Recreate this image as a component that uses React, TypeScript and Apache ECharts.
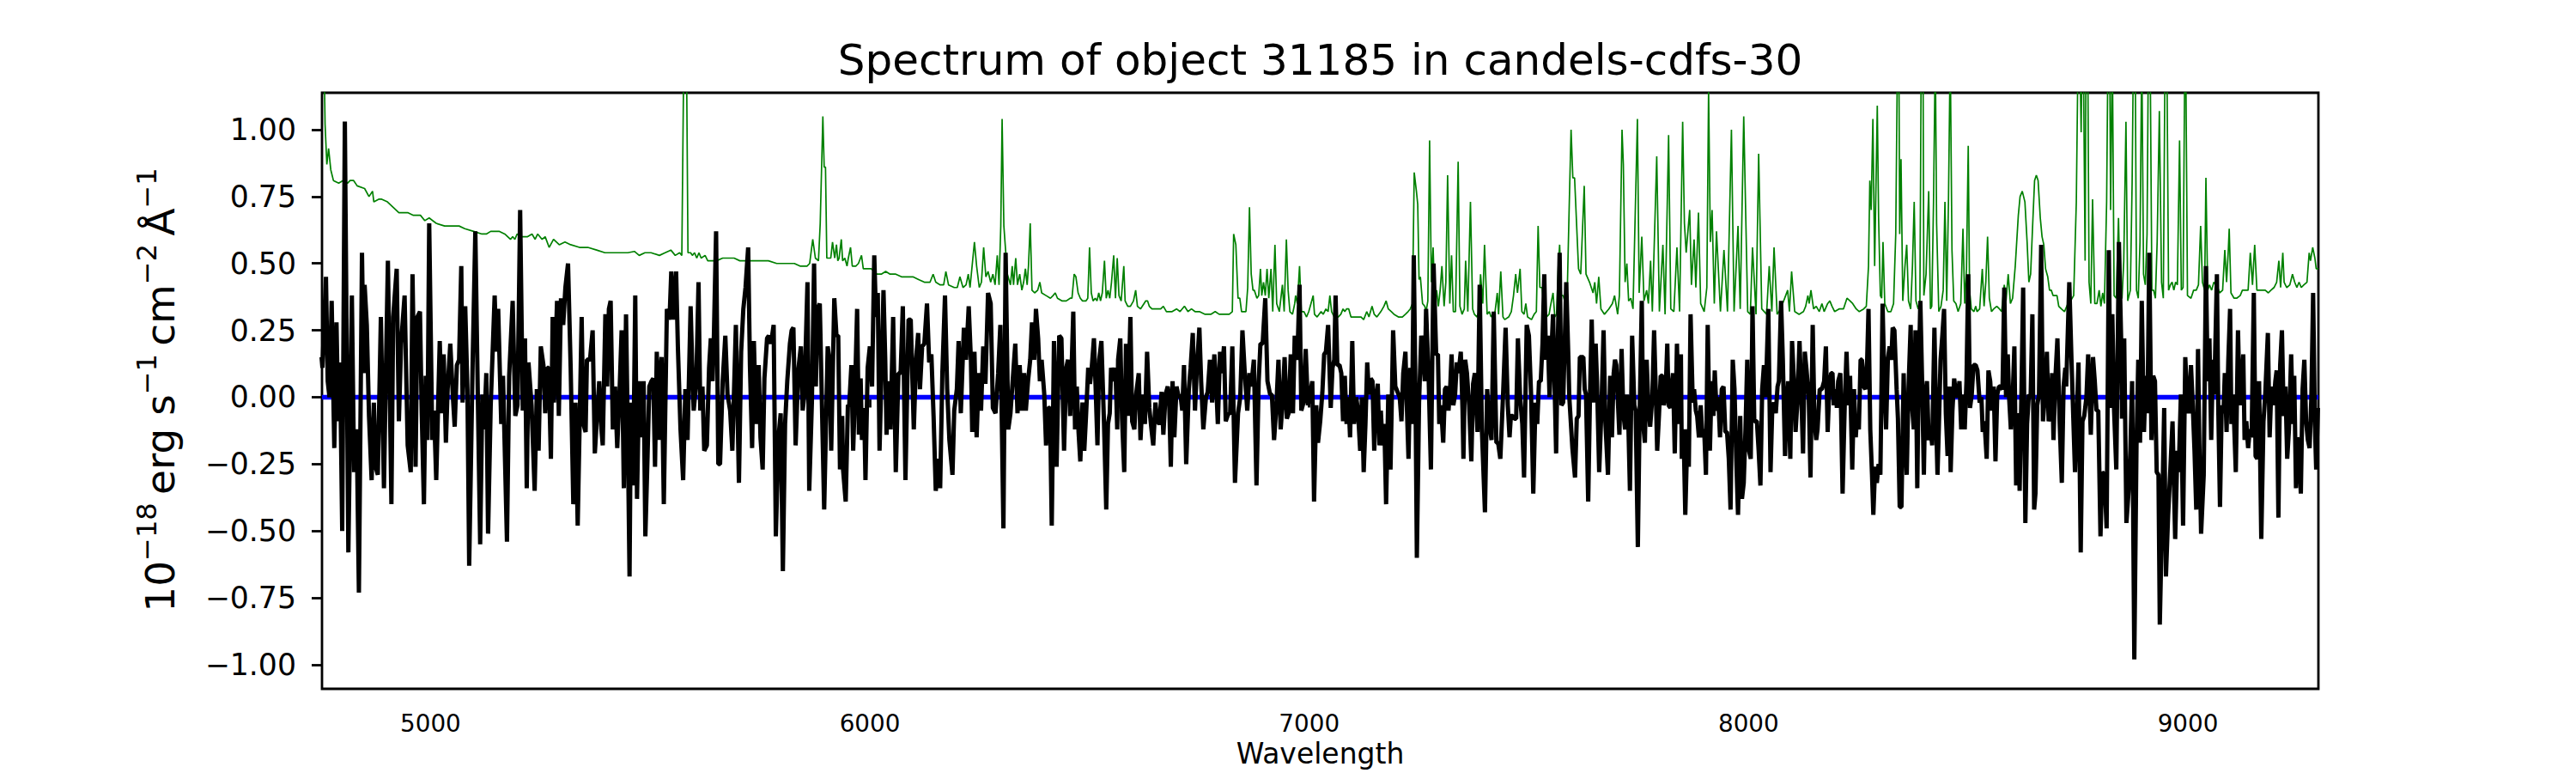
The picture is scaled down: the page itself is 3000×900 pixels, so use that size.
import React, { useEffect, useRef } from "react";
import * as echarts from "echarts";

const TITLE = "Spectrum of object 31185 in candels-cdfs-30";
const X_NAME = "Wavelength";
const X_MIN = 4753;
const X_MAX = 9297;
const Y_MIN = -1.09;
const Y_MAX = 1.138;
const xTicks = [5000, 6000, 7000, 8000, 9000];
const yTicks = [-1, -0.75, -0.5, -0.25, 0, 0.25, 0.5, 0.75, 1];

// black: observed flux [wavelength, flux]
const black4750 = [[4752,0.15],[4754,0.11],[4762,0.45],[4766,0.06],[4770,0.00],[4775,0.36],[4781,-0.19],[4786,0.28],[4790,-0.09],[4794,0.13],[4799,-0.50],[4805,1.03],[4813,-0.58],[4821,0.38],[4826,-0.28],[4832,-0.12],[4837,-0.73],[4844,0.54],[4848,0.09],[4850,0.42],[4855,0.27],[4860,-0.07],[4866,-0.31],[4871,-0.02],[4875,-0.26],[4880,-0.29],[4887,0.30],[4894,-0.34],[4898,0.06],[4903,0.51],[4911,-0.40],[4915,0.30],[4923,0.48],[4928,-0.09],[4933,0.20],[4941,0.38],[4948,-0.18],[4955,-0.28],[4959,0.46],[4966,-0.26],[4970,0.30],[4976,0.32],[4980,-0.06],[4985,-0.40],[4989,0.08],[4993,-0.16],[4997,0.65],[5004,-0.16],[5008,-0.05],[5013,-0.31],[5021,0.21],[5026,-0.06],[5030,0.16],[5035,-0.17],[5039,0.03],[5045,0.20],[5051,0.00],[5055,-0.11],[5060,0.12],[5065,0.14],[5070,0.49],[5073,-0.02],[5079,0.34],[5084,0.03],[5088,-0.63],[5096,0.14],[5102,0.62],[5108,-0.03],[5113,-0.55],[5118,0.01],[5122,-0.12],[5127,0.09],[5131,-0.51],[5137,-0.03],[5146,0.38],[5150,0.17],[5154,0.33],[5161,-0.10],[5165,0.08],[5174,-0.54],[5179,0.08],[5187,0.36],[5193,-0.07],[5198,-0.03],[5204,0.70],[5210,-0.05],[5215,0.22],[5219,-0.34],[5223,0.13],[5230,-0.03],[5237,-0.35],[5242,0.03],[5246,-0.20],[5251,0.19],[5257,0.12],[5261,-0.06],[5266,0.11],[5269,0.11],[5274,-0.23],[5278,0.30],[5281,-0.02],[5288,0.36],[5292,-0.07],[5297,0.37],[5302,0.27],[5307,0.41],[5313,0.50],[5319,0.11]];
const black5320 = [[5325,-0.40],[5330,-0.02],[5335,-0.48],[5344,0.30],[5348,-0.10],[5353,-0.13],[5356,0.14],[5360,0.14],[5363,0.14],[5369,0.25],[5374,-0.21],[5379,-0.07],[5384,0.06],[5389,-0.12],[5392,-0.18],[5398,0.31],[5402,0.04],[5406,0.33],[5410,0.36],[5415,-0.12],[5420,0.04],[5425,-0.19],[5430,0.01],[5435,0.25],[5440,-0.34],[5445,0.31],[5449,-0.13],[5453,-0.67],[5456,-0.02],[5461,-0.33],[5466,0.38],[5470,-0.38],[5475,0.06],[5480,-0.15],[5485,0.06],[5489,-0.52],[5494,-0.22],[5498,0.04],[5503,0.06],[5507,0.07],[5511,-0.26],[5515,0.17],[5519,-0.16],[5522,0.07],[5526,0.15],[5531,-0.40],[5538,0.33],[5544,0.29],[5548,0.47],[5554,0.29],[5559,0.47],[5563,0.19],[5569,-0.12],[5575,-0.31],[5580,0.03],[5585,-0.16],[5592,0.34],[5596,0.10],[5599,-0.05],[5605,0.06],[5610,0.43],[5614,-0.05],[5619,0.04],[5623,-0.20],[5629,-0.18],[5634,0.11],[5638,0.22],[5642,0.06],[5645,0.23],[5650,0.62],[5655,-0.25],[5659,-0.25],[5665,0.06],[5671,0.23],[5676,0.01],[5682,-0.05],[5687,-0.20],[5695,0.27],[5702,-0.32],[5707,0.17],[5712,0.33],[5717,0.41],[5723,0.56],[5727,0.12],[5732,-0.19],[5736,0.21],[5741,-0.10],[5747,0.12],[5751,-0.15],[5756,-0.27],[5760,0.07],[5766,0.22],[5770,0.23],[5775,0.20],[5781,0.27],[5786,-0.52],[5792,-0.15],[5797,-0.06],[5802,-0.65],[5807,-0.10],[5812,0.06],[5818,0.20],[5822,0.25],[5826,0.26],[5831,-0.18],[5837,0.10],[5843,0.19],[5847,-0.05],[5851,0.01],[5858,0.43],[5862,-0.35],[5868,-0.02],[5873,0.50],[5877,0.04],[5881,0.33],[5886,0.35]];
const black5890 = [[5896,-0.42],[5904,0.19],[5908,0.14],[5912,-0.20],[5919,0.37],[5924,0.23],[5928,0.23],[5932,-0.27],[5937,-0.07],[5939,-0.27],[5945,-0.39],[5950,-0.03],[5953,-0.03],[5958,0.12],[5962,-0.20],[5966,0.01],[5971,0.33],[5975,-0.14],[5979,0.07],[5982,-0.16],[5987,-0.04],[5990,-0.31],[5995,0.11],[6000,0.19],[6005,0.04],[6010,0.53],[6014,0.30],[6018,0.39],[6022,-0.20],[6026,0.06],[6031,0.40],[6035,0.14],[6038,-0.14],[6042,0.06],[6047,-0.12],[6053,0.30],[6059,-0.28],[6065,0.09],[6070,0.09],[6075,0.34],[6081,-0.31],[6088,0.29],[6093,0.29],[6100,-0.12],[6105,0.14],[6110,0.24],[6114,0.03],[6119,0.19],[6124,0.20],[6130,0.35],[6135,0.13],[6140,0.16],[6145,-0.07],[6150,-0.35],[6155,-0.23],[6160,-0.34],[6165,0.09],[6171,0.38],[6176,0.03],[6181,-0.16],[6188,-0.29],[6192,-0.05],[6198,0.03],[6202,0.21],[6207,-0.06],[6214,0.26],[6219,0.14],[6225,0.34],[6230,0.14],[6233,-0.13],[6238,0.17],[6243,-0.15],[6248,0.09],[6253,-0.05],[6258,0.19],[6263,0.05],[6269,0.39],[6275,0.35],[6280,-0.04],[6286,-0.06],[6292,0.09],[6297,0.27],[6304,-0.49],[6309,0.54],[6315,-0.12],[6320,-0.06],[6325,0.06],[6331,0.20],[6336,-0.06],[6341,0.12],[6346,-0.05],[6351,0.09],[6355,-0.05],[6360,0.06],[6365,0.14],[6369,0.28],[6374,0.14],[6378,0.33],[6383,0.22],[6387,0.06],[6391,0.14],[6397,0.01],[6401,-0.18],[6406,-0.04],[6410,-0.04],[6414,-0.48],[6419,0.21],[6425,-0.26],[6431,0.23],[6436,0.22],[6442,-0.20],[6447,0.11],[6451,0.14],[6456,-0.07]];
const black6460 = [[6463,0.32],[6467,-0.12],[6471,0.04],[6475,-0.13],[6479,-0.24],[6484,-0.02],[6488,-0.20],[6492,-0.07],[6497,0.11],[6501,0.05],[6505,0.11],[6510,0.22],[6514,0.03],[6518,-0.18],[6522,0.14],[6527,0.21],[6533,-0.10],[6538,-0.42],[6542,-0.10],[6546,-0.06],[6549,0.11],[6554,0.06],[6559,0.11],[6563,-0.12],[6565,0.14],[6570,0.22],[6574,-0.08],[6579,-0.28],[6583,0.20],[6587,-0.07],[6593,0.30],[6597,-0.09],[6602,-0.12],[6606,0.01],[6612,0.09],[6616,-0.16],[6621,0.01],[6626,-0.10],[6631,0.17],[6636,-0.04],[6641,-0.12],[6645,-0.18],[6650,-0.02],[6654,-0.09],[6659,-0.10],[6664,0.02],[6668,-0.14],[6673,0.01],[6678,0.04],[6681,0.00],[6685,-0.26],[6689,0.06],[6693,-0.15],[6698,0.04],[6703,0.00],[6707,0.01],[6711,-0.05],[6715,0.12],[6720,-0.25],[6726,0.03],[6730,0.11],[6735,0.24],[6740,-0.05],[6744,0.10],[6750,0.26],[6754,0.06],[6759,-0.12],[6765,0.00],[6769,0.02],[6774,0.14],[6779,-0.02],[6784,0.16],[6788,0.06],[6792,-0.10],[6797,0.17],[6801,0.09],[6806,0.19],[6810,-0.09],[6816,-0.06],[6820,-0.06],[6825,0.19],[6831,-0.32],[6838,-0.06],[6843,0.00],[6848,0.25],[6853,0.10],[6859,-0.05],[6864,0.09],[6868,0.04],[6874,0.14],[6880,-0.33],[6885,0.06],[6889,0.20],[6894,0.20],[6900,0.37],[6905,0.06],[6911,0.01],[6915,0.01],[6920,-0.16],[6925,-0.04],[6930,0.14],[6935,-0.12],[6939,-0.03],[6944,0.15],[6949,-0.08],[6953,-0.06],[6958,0.16],[6963,-0.06],[6967,0.23],[6973,0.14],[6978,0.42],[6982,-0.05],[6987,-0.02],[6992,0.18],[6997,-0.03],[7002,0.01],[7007,0.06],[7011,-0.39],[7016,-0.03],[7020,-0.17]];
const black7025 = [[7025,-0.09],[7030,0.02],[7034,0.16],[7038,0.17],[7043,0.27],[7049,-0.04],[7053,0.11],[7057,0.14],[7060,0.38],[7064,0.12],[7069,0.12],[7073,0.09],[7077,-0.09],[7081,0.08],[7085,-0.10],[7089,0.00],[7093,-0.15],[7098,0.21],[7102,-0.10],[7107,0.00],[7111,-0.05],[7116,-0.20],[7120,0.00],[7124,-0.28],[7128,-0.10],[7132,0.13],[7136,0.01],[7140,0.07],[7144,0.06],[7148,-0.20],[7152,0.00],[7156,0.05],[7160,-0.18],[7163,-0.05],[7167,-0.18],[7171,-0.10],[7175,-0.40],[7180,0.01],[7185,-0.27],[7191,0.25],[7196,0.04],[7201,0.02],[7206,0.00],[7210,-0.09],[7214,0.09],[7219,0.17],[7222,-0.02],[7226,-0.23],[7230,0.11],[7234,-0.10],[7238,0.53],[7242,0.00],[7245,-0.60],[7250,-0.02],[7255,0.23],[7259,0.17],[7263,0.06],[7266,0.33],[7272,0.06],[7277,-0.27],[7283,0.50],[7289,0.16],[7293,0.16],[7296,-0.10],[7300,-0.03],[7305,-0.17],[7309,0.03],[7313,0.04],[7317,-0.05],[7321,0.04],[7324,0.16],[7328,-0.03],[7332,0.01],[7336,0.13],[7340,0.09],[7345,0.17],[7349,-0.05],[7351,-0.23],[7355,0.14],[7359,0.09],[7364,-0.03],[7369,-0.24],[7373,0.05],[7377,0.09],[7383,-0.13],[7388,0.42],[7393,-0.12],[7400,-0.43],[7405,0.03],[7410,-0.10],[7415,-0.16],[7420,0.32],[7426,-0.17],[7430,-0.17],[7435,-0.23],[7441,0.00],[7447,0.26],[7452,-0.03],[7456,-0.15],[7459,-0.07],[7463,-0.07],[7467,-0.08],[7471,-0.08],[7475,0.22],[7480,0.00],[7485,-0.10],[7489,-0.30],[7495,0.27],[7500,0.23],[7505,0.01],[7510,-0.36],[7515,-0.02],[7519,-0.10],[7523,0.06],[7527,0.06],[7531,0.20],[7535,0.46],[7539,0.14],[7543,0.23],[7547,0.00],[7551,0.16],[7555,0.31],[7559,0.01],[7562,-0.21],[7566,0.22],[7570,0.54],[7574,-0.03],[7578,-0.02],[7582,0.23],[7585,0.43],[7590,0.14]];
const black7590 = [[7592,0.00],[7599,-0.19],[7605,-0.30],[7609,-0.08],[7613,-0.07],[7616,0.15],[7620,0.15],[7624,0.15],[7627,0.03],[7630,0.01],[7635,-0.39],[7639,0.00],[7643,0.29],[7647,-0.02],[7652,0.20],[7655,0.06],[7660,-0.28],[7665,-0.05],[7670,0.25],[7674,-0.09],[7680,-0.29],[7685,0.08],[7689,-0.15],[7693,0.09],[7696,0.14],[7699,0.12],[7703,-0.03],[7706,-0.14],[7711,0.18],[7715,-0.06],[7719,-0.12],[7723,0.01],[7726,-0.07],[7730,-0.35],[7735,0.23],[7740,-0.03],[7743,-0.05],[7748,-0.56],[7752,-0.07],[7757,0.36],[7760,-0.10],[7764,-0.17],[7768,0.14],[7772,-0.03],[7776,-0.11],[7781,0.00],[7785,0.25],[7789,0.01],[7792,-0.20],[7796,-0.07],[7800,0.08],[7804,0.08],[7807,-0.03],[7811,0.01],[7815,0.20],[7818,-0.03],[7822,-0.04],[7826,0.06],[7828,0.09],[7832,-0.21],[7837,0.20],[7841,-0.10],[7846,0.16],[7848,-0.23],[7852,-0.12],[7856,-0.44],[7861,-0.12],[7864,-0.26],[7868,0.31],[7873,-0.02],[7876,0.03],[7880,-0.05],[7883,-0.07],[7887,-0.15],[7891,-0.03],[7895,-0.15],[7899,-0.12],[7903,-0.29],[7907,0.27],[7912,-0.20],[7916,0.06],[7920,-0.07],[7923,0.10],[7927,-0.05],[7931,0.00],[7935,-0.15],[7939,0.03],[7943,0.04],[7947,-0.13],[7951,-0.13],[7955,-0.23],[7959,-0.42],[7964,0.14],[7968,0.03],[7972,-0.23],[7976,-0.44],[7981,-0.07],[7985,-0.38],[7989,-0.32],[7993,-0.12],[7997,0.14],[8001,-0.20],[8005,-0.23],[8009,0.34],[8013,-0.09],[8019,-0.09],[8023,-0.20],[8027,-0.33],[8031,0.03],[8035,0.12],[8039,0.00],[8045,0.33],[8050,-0.28],[8054,-0.04],[8058,-0.02],[8062,-0.06],[8066,0.04],[8069,0.06],[8074,0.36],[8078,0.14],[8083,-0.22],[8086,-0.05],[8090,0.06],[8095,-0.23],[8099,0.21],[8103,0.07],[8107,-0.13],[8111,-0.02],[8116,0.21],[8120,0.01],[8124,-0.21],[8128,0.17],[8132,0.10],[8137,0.00],[8141,-0.30],[8146,0.27],[8150,-0.09],[8154,-0.16]];
const black8155 = [[8157,-0.12],[8162,0.03],[8167,0.03],[8172,0.06],[8176,0.19],[8180,-0.13],[8184,0.04],[8188,0.09],[8191,0.09],[8194,-0.03],[8198,0.03],[8201,-0.04],[8204,0.06],[8209,0.09],[8214,-0.36],[8219,-0.02],[8223,0.17],[8227,-0.03],[8231,0.08],[8236,-0.27],[8240,0.03],[8244,-0.15],[8247,-0.07],[8251,-0.12],[8255,0.14],[8258,0.14],[8262,0.04],[8266,0.03],[8270,0.14],[8273,0.33],[8277,-0.12],[8281,-0.29],[8284,-0.44],[8288,-0.26],[8292,-0.32],[8296,-0.25],[8300,-0.29],[8305,0.35],[8309,0.06],[8313,-0.12],[8317,0.14],[8321,0.19],[8325,0.14],[8328,0.26],[8332,0.25],[8337,0.03],[8340,-0.08],[8344,-0.41],[8348,-0.41],[8353,0.09],[8356,-0.12],[8360,-0.29],[8364,0.03],[8369,0.27],[8372,-0.03],[8376,-0.12],[8380,0.25],[8384,-0.34],[8387,0.06],[8391,0.36],[8395,0.06],[8399,-0.29],[8402,0.00],[8406,0.06],[8410,-0.16],[8414,-0.12],[8418,-0.18],[8423,0.26],[8427,-0.09],[8430,-0.29],[8433,-0.12],[8437,0.14],[8441,0.23],[8445,0.33],[8449,-0.06],[8453,-0.22],[8457,0.04],[8460,-0.28],[8464,-0.05],[8468,0.07],[8472,0.01],[8476,0.00],[8480,0.06],[8484,-0.12],[8488,0.01],[8492,-0.12],[8496,0.06],[8500,0.46],[8504,-0.04],[8508,0.01],[8512,0.12],[8517,0.12],[8521,0.10],[8526,-0.02],[8530,0.00],[8533,-0.13],[8537,-0.09],[8542,-0.23],[8546,0.10],[8550,0.06],[8554,-0.05],[8558,0.04],[8562,-0.24],[8566,0.01],[8570,0.04],[8573,0.04],[8578,0.03],[8582,0.41],[8586,0.00],[8590,0.16],[8593,0.00],[8597,-0.12],[8601,-0.01],[8605,0.19],[8609,-0.33],[8613,-0.06],[8617,-0.35],[8621,0.01],[8625,0.41],[8630,-0.47],[8634,-0.10],[8638,0.01],[8642,0.00],[8646,0.31],[8650,-0.42],[8653,-0.36],[8657,-0.03],[8661,0.01],[8666,0.57],[8670,-0.09],[8675,0.02],[8679,0.17],[8683,-0.09],[8687,-0.05],[8691,0.09],[8694,-0.16],[8698,0.06],[8703,0.22],[8708,-0.09],[8713,-0.32],[8717,0.04],[8721,0.11]];
const black8720 = [[8723,0.04],[8730,0.43],[8735,0.14],[8743,-0.28],[8747,-0.07],[8751,0.13],[8756,-0.58],[8760,-0.09],[8764,-0.07],[8769,0.00],[8773,0.16],[8779,-0.14],[8784,0.15],[8788,0.06],[8792,-0.05],[8796,-0.05],[8801,-0.52],[8805,-0.28],[8810,-0.29],[8815,-0.49],[8820,0.55],[8824,-0.04],[8828,0.31],[8832,-0.05],[8837,-0.27],[8843,0.58],[8848,0.22],[8850,-0.08],[8855,0.22],[8860,-0.47],[8865,-0.35],[8869,-0.20],[8873,0.06],[8878,-0.98],[8883,-0.18],[8887,0.14],[8891,-0.17],[8895,0.36],[8900,-0.13],[8904,0.08],[8908,-0.06],[8912,0.54],[8917,-0.16],[8921,0.08],[8925,0.06],[8929,-0.28],[8933,-0.29],[8936,-0.85],[8942,-0.38],[8946,-0.04],[8950,-0.67],[8955,-0.44],[8960,-0.27],[8965,-0.09],[8971,-0.53],[8976,-0.20],[8979,-0.28],[8984,0.01],[8989,-0.48],[8994,0.15],[8998,0.00],[9002,-0.06],[9007,0.12],[9011,-0.03],[9015,-0.20],[9019,-0.42],[9023,0.18],[9026,-0.17],[9030,-0.51],[9036,-0.29],[9041,0.49],[9045,0.06],[9049,0.22],[9053,-0.16],[9057,0.14],[9060,0.01],[9066,0.46],[9069,-0.03],[9073,-0.41],[9077,-0.03],[9081,-0.06],[9084,0.09],[9088,-0.13],[9092,0.14],[9096,0.33],[9099,-0.10],[9103,0.01],[9109,-0.28],[9114,0.25],[9118,-0.03],[9122,0.03],[9126,0.16],[9129,-0.16],[9133,-0.09],[9137,-0.19],[9141,-0.12],[9145,-0.15],[9150,0.39],[9154,-0.22],[9158,-0.23],[9162,0.06],[9167,-0.53],[9172,-0.09],[9176,0.01],[9182,0.24],[9186,-0.15],[9190,0.04],[9195,-0.03],[9199,0.06],[9202,0.10],[9206,-0.45],[9210,0.12],[9214,0.25],[9218,-0.07],[9222,0.04],[9226,-0.23],[9230,-0.12],[9235,0.16],[9239,-0.10],[9242,0.08],[9246,-0.34],[9249,-0.15],[9253,-0.19],[9257,-0.36],[9261,0.03],[9265,0.14],[9269,-0.09],[9273,-0.16],[9277,-0.19],[9281,0.00],[9285,0.39],[9289,-0.10],[9292,-0.27],[9296,-0.04]];

// green: noise / sky spectrum [wavelength, flux]
const green4750 = [[4752,1.50],[4759,1.13],[4760,1.02],[4764,0.87],[4768,0.93],[4773,0.85],[4779,0.81],[4791,0.80],[4801,0.81],[4811,0.80],[4817,0.81],[4825,0.81],[4833,0.79],[4850,0.78],[4860,0.75],[4868,0.77],[4871,0.73],[4882,0.74],[4889,0.74],[4902,0.73],[4915,0.71],[4928,0.69],[4948,0.69],[4961,0.68],[4977,0.68],[4987,0.66],[4997,0.67],[5013,0.65],[5032,0.64],[5052,0.64],[5065,0.64],[5078,0.63],[5098,0.62],[5117,0.61],[5127,0.61],[5137,0.62],[5156,0.62],[5169,0.61],[5182,0.59],[5187,0.60],[5192,0.59],[5197,0.61],[5208,0.60],[5221,0.60],[5231,0.61],[5238,0.59],[5244,0.61],[5254,0.59],[5261,0.60],[5270,0.56],[5280,0.59],[5293,0.57],[5306,0.58],[5319,0.57]];
const green5320 = [[5339,0.56],[5358,0.56],[5378,0.55],[5397,0.54],[5417,0.54],[5436,0.54],[5449,0.54],[5464,0.545],[5475,0.53],[5488,0.54],[5502,0.54],[5521,0.53],[5534,0.54],[5547,0.55],[5557,0.53],[5567,0.54],[5572,0.53],[5576,1.20],[5579,1.40],[5583,1.20],[5586,0.54],[5592,0.54],[5596,0.53],[5601,0.54],[5606,0.52],[5611,0.54],[5616,0.52],[5625,0.53],[5631,0.51],[5638,0.51],[5651,0.51],[5665,0.52],[5678,0.52],[5691,0.52],[5704,0.51],[5717,0.51],[5730,0.51],[5749,0.51],[5769,0.51],[5788,0.50],[5808,0.50],[5828,0.50],[5841,0.49],[5857,0.49],[5863,0.50],[5870,0.59],[5876,0.52],[5883,0.51],[5887,0.65]];
const green5890 = [[5893,1.05],[5896,0.86],[5899,0.86],[5902,0.52],[5906,0.52],[5911,0.52],[5915,0.58],[5920,0.52],[5924,0.57],[5927,0.51],[5930,0.52],[5935,0.59],[5938,0.51],[5943,0.52],[5948,0.49],[5951,0.52],[5956,0.56],[5960,0.49],[5968,0.49],[5974,0.50],[5981,0.53],[5985,0.48],[5994,0.48],[6003,0.48],[6016,0.46],[6026,0.46],[6036,0.47],[6046,0.46],[6059,0.46],[6072,0.45],[6088,0.45],[6098,0.45],[6111,0.44],[6124,0.43],[6137,0.43],[6144,0.46],[6150,0.43],[6160,0.42],[6168,0.42],[6173,0.47],[6179,0.42],[6192,0.41],[6199,0.41],[6205,0.45],[6212,0.41],[6219,0.42],[6224,0.46],[6228,0.41],[6238,0.58],[6243,0.49],[6249,0.41],[6254,0.43],[6259,0.56],[6264,0.45],[6269,0.47],[6275,0.43],[6280,0.46],[6285,0.42],[6290,0.53],[6294,0.42],[6298,0.64],[6301,1.04],[6305,0.64],[6308,0.57],[6313,0.46],[6320,0.42],[6324,0.49],[6327,0.42],[6332,0.52],[6336,0.42],[6341,0.46],[6346,0.40],[6350,0.43],[6354,0.48],[6358,0.42],[6361,0.49],[6365,0.65],[6369,0.40],[6375,0.39],[6382,0.40],[6387,0.43],[6391,0.39],[6401,0.38],[6411,0.37],[6417,0.38],[6422,0.39],[6427,0.37],[6437,0.36],[6447,0.36],[6456,0.37]];
const green6460 = [[6460,0.37],[6465,0.46],[6469,0.45],[6474,0.39],[6479,0.37],[6484,0.36],[6492,0.36],[6496,0.37],[6500,0.56],[6504,0.39],[6508,0.36],[6513,0.37],[6517,0.36],[6521,0.39],[6525,0.36],[6529,0.39],[6534,0.51],[6538,0.37],[6542,0.40],[6546,0.37],[6550,0.43],[6555,0.53],[6559,0.37],[6563,0.52],[6567,0.38],[6572,0.36],[6578,0.49],[6581,0.36],[6587,0.34],[6593,0.34],[6600,0.36],[6605,0.40],[6609,0.34],[6616,0.33],[6624,0.35],[6628,0.36],[6632,0.36],[6636,0.34],[6642,0.33],[6652,0.33],[6662,0.33],[6668,0.34],[6675,0.32],[6688,0.32],[6698,0.33],[6706,0.32],[6716,0.34],[6724,0.32],[6732,0.33],[6740,0.32],[6750,0.32],[6763,0.31],[6776,0.31],[6786,0.32],[6795,0.31],[6808,0.31],[6818,0.31],[6825,0.32],[6828,0.61],[6833,0.57],[6838,0.37],[6842,0.37],[6846,0.32],[6851,0.32],[6856,0.32],[6860,0.41],[6864,0.71],[6868,0.46],[6872,0.40],[6875,0.40],[6881,0.37],[6885,0.38],[6889,0.48],[6892,0.38],[6896,0.43],[6900,0.38],[6904,0.48],[6908,0.37],[6913,0.48],[6917,0.32],[6922,0.57],[6926,0.35],[6932,0.32],[6939,0.42],[6943,0.32],[6948,0.59],[6952,0.40],[6956,0.32],[6962,0.31],[6967,0.35],[6969,0.38],[6973,0.35],[6978,0.49],[6982,0.32],[6988,0.32],[6994,0.30],[6999,0.32],[7004,0.35],[7009,0.38],[7012,0.31],[7018,0.30]];
const green7025 = [[7027,0.32],[7032,0.31],[7038,0.33],[7043,0.32],[7047,0.38],[7051,0.32],[7057,0.30],[7066,0.30],[7072,0.31],[7077,0.33],[7081,0.32],[7085,0.33],[7090,0.33],[7095,0.30],[7105,0.30],[7118,0.30],[7124,0.29],[7131,0.32],[7136,0.30],[7143,0.34],[7148,0.31],[7154,0.30],[7163,0.32],[7170,0.34],[7175,0.36],[7180,0.33],[7187,0.32],[7193,0.31],[7203,0.30],[7212,0.30],[7219,0.31],[7225,0.32],[7230,0.33],[7235,0.35],[7239,0.84],[7244,0.77],[7247,0.72],[7250,0.44],[7253,0.45],[7258,0.35],[7263,0.34],[7266,0.32],[7270,0.36],[7274,0.96],[7278,0.43],[7282,0.56],[7286,0.35],[7290,0.40],[7294,0.34],[7298,0.40],[7302,0.49],[7307,0.34],[7311,0.43],[7315,0.83],[7320,0.35],[7324,0.53],[7328,0.32],[7333,0.32],[7339,0.88],[7343,0.34],[7348,0.31],[7353,0.33],[7356,0.51],[7361,0.32],[7367,0.73],[7372,0.33],[7376,0.31],[7382,0.30],[7386,0.32],[7390,0.46],[7395,0.35],[7399,0.57],[7405,0.31],[7410,0.32],[7414,0.30],[7419,0.31],[7423,0.32],[7428,0.39],[7431,0.31],[7436,0.47],[7441,0.30],[7445,0.29],[7454,0.30],[7460,0.32],[7465,0.38],[7470,0.46],[7474,0.39],[7480,0.48],[7484,0.32],[7489,0.31],[7493,0.35],[7497,0.30],[7506,0.29],[7512,0.31],[7517,0.32],[7521,0.64],[7525,0.41],[7530,0.41],[7535,0.32],[7540,0.30],[7546,0.31],[7549,0.34],[7555,0.39],[7559,0.30],[7563,0.31],[7567,0.49],[7570,0.57],[7574,0.38],[7578,0.38],[7583,0.35],[7587,0.37],[7592,0.73],[7596,1.00],[7600,0.82],[7604,0.82]];
const green7590 = [[7613,0.48],[7618,0.46],[7626,0.79],[7630,0.46],[7638,0.43],[7646,0.39],[7650,0.43],[7654,0.35],[7659,0.45],[7664,0.33],[7672,0.31],[7682,0.33],[7690,0.35],[7695,0.38],[7702,0.31],[7706,0.38],[7712,1.00],[7715,0.87],[7719,0.43],[7723,0.50],[7727,0.36],[7732,0.37],[7737,0.33],[7747,1.04],[7751,0.39],[7757,0.60],[7762,0.36],[7768,0.40],[7772,0.35],[7777,0.51],[7781,0.32],[7791,0.90],[7797,0.32],[7805,0.57],[7810,0.31],[7818,0.98],[7823,0.33],[7830,0.32],[7837,0.56],[7843,0.32],[7850,1.03],[7854,0.65],[7858,0.54],[7866,0.70],[7870,0.42],[7876,0.59],[7880,0.41],[7886,0.69],[7891,0.35],[7899,0.32],[7905,0.41],[7909,1.15],[7913,0.58],[7917,0.70],[7922,0.35],[7927,0.62],[7936,0.32],[7944,0.55],[7952,0.32],[7961,1.00],[7967,0.32],[7976,0.64],[7981,0.33],[7989,1.05],[7998,0.32],[8004,0.31],[8009,0.56],[8017,0.31],[8023,0.91],[8030,0.33],[8041,0.31],[8047,0.49],[8053,0.32],[8058,0.56],[8065,0.31],[8073,0.33],[8089,0.40],[8093,0.32],[8098,0.47],[8105,0.32],[8115,0.31],[8125,0.32],[8130,0.34],[8135,0.38],[8138,0.35],[8142,0.40],[8148,0.33],[8154,0.34]];
const green8155 = [[8161,0.32],[8167,0.35],[8172,0.32],[8180,0.35],[8185,0.36],[8190,0.34],[8196,0.32],[8206,0.33],[8216,0.33],[8224,0.37],[8231,0.36],[8237,0.35],[8245,0.33],[8252,0.32],[8262,0.33],[8268,0.34],[8273,0.49],[8276,0.81],[8279,0.70],[8283,1.04],[8287,0.49],[8293,1.09],[8296,0.67],[8300,0.38],[8303,0.37],[8306,0.58],[8310,0.35],[8317,0.32],[8324,0.32],[8330,0.35],[8335,0.61],[8339,1.30],[8342,1.30],[8344,0.61],[8347,0.89],[8351,0.36],[8356,0.49],[8360,0.57],[8364,0.36],[8369,0.33],[8373,0.49],[8377,0.73],[8381,0.36],[8386,0.33],[8390,0.36],[8393,1.30],[8397,1.30],[8399,0.38],[8404,0.46],[8410,0.77],[8414,0.33],[8417,0.34],[8421,0.73],[8425,1.30],[8428,0.65],[8433,0.32],[8438,0.34],[8443,0.40],[8447,0.73],[8451,0.36],[8455,0.73],[8459,1.30],[8463,0.55],[8467,0.36],[8472,0.35],[8477,0.32],[8483,0.35],[8488,0.63],[8492,0.35],[8496,0.48],[8500,0.94],[8503,0.40],[8507,0.33],[8513,0.32],[8517,0.34],[8520,0.32],[8526,0.33],[8532,0.48],[8536,0.34],[8540,0.43],[8544,0.60],[8548,0.37],[8553,0.32],[8558,0.33],[8565,0.34],[8571,0.33],[8576,0.32],[8582,0.42],[8586,0.36],[8591,0.46],[8596,0.35],[8601,0.37],[8607,0.49],[8614,0.68],[8618,0.75],[8623,0.77],[8629,0.73],[8634,0.58],[8638,0.43],[8642,0.46],[8646,0.62],[8651,0.81],[8655,0.83],[8659,0.81],[8664,0.67],[8668,0.60],[8672,0.57],[8676,0.48],[8681,0.45],[8685,0.40],[8689,0.40],[8693,0.38],[8697,0.38],[8702,0.38],[8706,0.34],[8712,0.33],[8719,0.32]];
const green8720 = [[8727,0.35],[8733,0.36],[8740,0.38],[8746,0.73],[8750,1.30],[8754,1.30],[8757,0.99],[8759,1.30],[8762,1.30],[8766,0.51],[8768,1.30],[8772,1.30],[8775,0.43],[8779,0.35],[8783,0.74],[8788,0.35],[8793,0.35],[8798,0.40],[8802,0.34],[8806,0.39],[8810,0.35],[8815,0.73],[8818,1.30],[8822,1.30],[8824,0.70],[8828,1.30],[8832,0.38],[8837,0.37],[8842,0.67],[8846,0.37],[8850,0.37],[8854,0.51],[8859,1.03],[8863,0.36],[8869,0.40],[8873,0.80],[8876,1.30],[8880,1.30],[8883,0.40],[8887,0.37],[8891,0.58],[8895,1.30],[8899,0.46],[8903,0.42],[8907,0.61],[8910,1.30],[8914,1.30],[8918,0.40],[8922,0.40],[8926,0.37],[8930,0.58],[8935,1.07],[8940,0.43],[8944,0.37],[8948,1.30],[8952,1.30],[8956,0.40],[8960,0.42],[8964,0.43],[8968,0.40],[8972,0.43],[8976,0.42],[8981,0.96],[8985,0.40],[8989,0.41],[8993,1.30],[8995,1.30],[8999,0.38],[9007,0.37],[9013,0.40],[9019,0.40],[9024,0.42],[9029,0.64],[9033,0.43],[9038,0.40],[9041,0.82],[9045,0.40],[9049,0.42],[9054,0.40],[9059,0.43],[9066,0.42],[9072,0.39],[9079,0.40],[9084,0.55],[9088,0.43],[9092,0.55],[9094,0.63],[9098,0.39],[9105,0.37],[9111,0.37],[9119,0.38],[9124,0.40],[9131,0.40],[9137,0.40],[9142,0.54],[9147,0.42],[9152,0.57],[9157,0.40],[9163,0.40],[9170,0.40],[9176,0.40],[9183,0.39],[9189,0.40],[9196,0.41],[9202,0.43],[9207,0.51],[9211,0.41],[9216,0.54],[9219,0.43],[9225,0.41],[9232,0.42],[9238,0.46],[9243,0.43],[9248,0.41],[9253,0.43],[9258,0.41],[9264,0.42],[9271,0.43],[9276,0.54],[9279,0.51],[9284,0.56],[9289,0.52],[9292,0.48],[9297,0.48]];

const zeroLevel = 0;

const blackData = [...black4750, ...black5320, ...black5890, ...black6460, ...black7025, ...black7590, ...black8155, ...black8720];
const greenData = [...green4750, ...green5320, ...green5890, ...green6460, ...green7025, ...green7590, ...green8155, ...green8720];

const FONT = "DejaVu Sans";

export default function App() {
  const ref = useRef<HTMLDivElement>(null);
  useEffect(() => {
    if (!ref.current) return;
    const chart = echarts.init(ref.current, null, { renderer: "svg" });
    const fmtY = (v: number) => v.toFixed(2).replace("-", "\u2212");
    chart.setOption({
      animation: false,
      backgroundColor: "#ffffff",
      title: {
        text: TITLE,
        left: 1537.5,
        top: 45,
        padding: 0,
        textAlign: "center",
        textStyle: { fontFamily: FONT, fontSize: 50, fontWeight: "normal", color: "#000" },
      },
      grid: {
        left: 375,
        right: 300,
        top: 108,
        bottom: 98,
        show: true,
        borderColor: "#000",
        borderWidth: 2.8,
        backgroundColor: "transparent",
      },
      xAxis: {
        type: "value",
        min: X_MIN,
        max: X_MAX,
        name: X_NAME,
        nameLocation: "middle",
        nameGap: 58,
        nameTextStyle: { fontFamily: FONT, fontSize: 33, color: "#000" },
        axisLine: { show: false },
        axisTick: { show: true, customValues: xTicks, length: 12, lineStyle: { color: "#000", width: 2.8 } },
        axisLabel: { customValues: xTicks, fontFamily: FONT, fontSize: 27.8, color: "#000", margin: 26, formatter: (v: number) => String(v) },
        splitLine: { show: false },
      },
      yAxis: {
        type: "value",
        min: Y_MIN,
        max: Y_MAX,
        axisLine: { show: false },
        axisTick: { show: true, customValues: yTicks, length: 12, lineStyle: { color: "#000", width: 2.8 } },
        axisLabel: { customValues: yTicks, fontFamily: FONT, fontSize: 34.7, color: "#000", margin: 30, formatter: fmtY },
        splitLine: { show: false },
      },
      graphic: [
        {
          type: "text",
          x: 186,
          y: 454,
          rotation: Math.PI / 2,
          style: {
            text: "{m|10}{s|\u221218}{m|\u2009erg\u00a0s}{s|\u22121}{m|\u2009cm}{s|\u22122}{m|\u2009\u00c5}{s|\u22121}",
            rich: {
              m: { fontFamily: FONT, fontSize: 47, lineHeight: 62, verticalAlign: "middle", fill: "#000" },
              s: { fontFamily: FONT, fontSize: 32, lineHeight: 32, verticalAlign: "top", fill: "#000" },
            },
            fill: "#000",
            align: "center",
            verticalAlign: "middle",
            textAlign: "center",
            textVerticalAlign: "middle",
          },
        },
      ],
      series: [
        {
          type: "line",
          data: greenData,
          showSymbol: false,
          symbol: "none",
          clip: true,
          lineStyle: { color: "#008000", width: 1.7 },
          z: 2,
        },
        {
          type: "line",
          data: [[X_MIN, zeroLevel], [X_MAX, zeroLevel]],
          showSymbol: false,
          symbol: "none",
          lineStyle: { color: "#0000ff", width: 5.4 },
          z: 3,
        },
        {
          type: "line",
          data: blackData,
          showSymbol: false,
          symbol: "none",
          clip: true,
          lineStyle: { color: "#000000", width: 5 },
          z: 4,
        },
      ],
    });
    return () => chart.dispose();
  }, []);
  return (
    <div
      ref={ref}
      style={{ position: "fixed", left: 0, top: 0, width: 3000, height: 900, background: "#fff" }}
    />
  );
}
